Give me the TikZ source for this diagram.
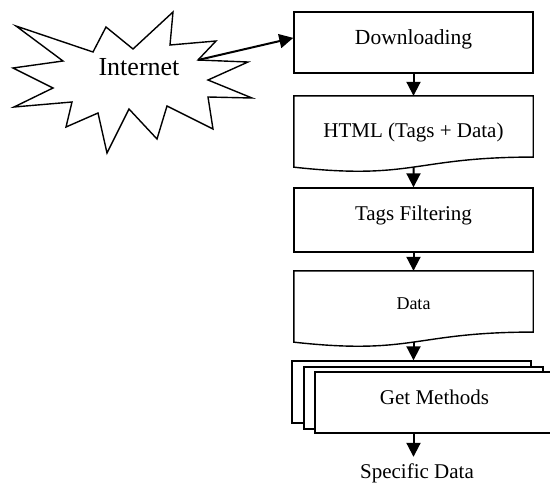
\documentclass[tikz,border=0pt]{standalone}
\usepackage{fontspec}
\setmainfont{Liberation Serif}
\usetikzlibrary{arrows.meta,calc}
\begin{document}
\begin{tikzpicture}[x=1pt,y=-1pt,
  boxline/.style={draw=black,line width=1.4pt},
  procbox/.style={boxline,fill=white,rectangle,inner sep=0pt,minimum width=239pt,anchor=base,align=center},
  txt/.style={inner sep=0pt,anchor=base},
  arr/.style={line width=2pt,-{Triangle[length=14pt,width=14pt]}}]
\useasboundingbox (0,0) rectangle (550,483);
% Internet star
\draw[boxline,line join=miter] (16,26) -- (93,52) -- (106,27) -- (133,49) -- (173,12) -- (170,45) -- (216,41) -- (198,60) -- (248,62) -- (208,80) -- (252,98) -- (208,97) -- (213,129) -- (167,106) -- (157,139) -- (129,109) -- (107,153) -- (98,113) -- (66,127) -- (72,102) -- (14,107) -- (53,88) -- (13,68) -- (63,61) -- cycle;
\coordinate (starpt) at (198,60);
\node[txt,font=\fontsize{26}{30}\selectfont] (inet) at (139,75) {Internet};
% Downloading
\node[procbox,text height=32.3pt,text depth=28.7pt,font=\fontsize{21.5}{26}\selectfont] (dl) at (413.5,44.3) {Downloading};
% HTML document
\node[txt,text height=41pt,text depth=35pt,minimum width=239pt,font=\fontsize{21}{25}\selectfont] (html) at (413.5,137) {HTML (Tags + Data)};
\draw[boxline] (html.north west) -- (html.north east) -- ($(html.north east)!0.802!(html.south east)$)
  .. controls ($(html.north)!0.802!(html.south)$) and ($(html.north)!1.1075!(html.south)$) .. ($(html.north west)!0.934!(html.south west)$) -- cycle;
\coordinate (htmlwave) at ($(html.north)!0.934!(html.south)$);
% Tags Filtering
\node[procbox,text height=32pt,text depth=32pt,font=\fontsize{21}{25}\selectfont] (tags) at (413.5,220) {Tags Filtering};
% Data document
\node[txt,text height=38pt,text depth=38pt,minimum width=239pt,font=\fontsize{18}{22}\selectfont] (data) at (413.5,309) {Data};
\draw[boxline] (data.north west) -- (data.north east) -- ($(data.north east)!0.802!(data.south east)$)
  .. controls ($(data.north)!0.802!(data.south)$) and ($(data.north)!1.1075!(data.south)$) .. ($(data.north west)!0.934!(data.south west)$) -- cycle;
\coordinate (datawave) at ($(data.north)!0.934!(data.south)$);
% Get Methods (multiple documents)
\node[procbox,text height=0pt,text depth=62pt] (gm1) at (411.5,361) {};
\node[procbox,text height=0pt,text depth=62pt] (gm2) at (423.5,367) {};
\node[procbox,text height=32pt,text depth=29pt,font=\fontsize{21}{25}\selectfont] (gm3) at (434.5,404) {Get Methods};
% Specific Data
\node[txt,text height=21pt,font=\fontsize{21}{25}\selectfont] (spec) at (417,478) {Specific Data};
% connectors
\draw[arr] (starpt) -- ($(dl.north west)!0.426!(dl.south west)$);
\draw[arr] (dl.south) -- (html.north);
\draw[arr] (htmlwave) -- (tags.north);
\draw[arr] (tags.south) -- (data.north);
\draw[arr] (datawave) -- (datawave |- gm1.north);
\draw[arr] (gm3.south -| dl.south) -- (spec.north -| dl.south);
\end{tikzpicture}
\end{document}
